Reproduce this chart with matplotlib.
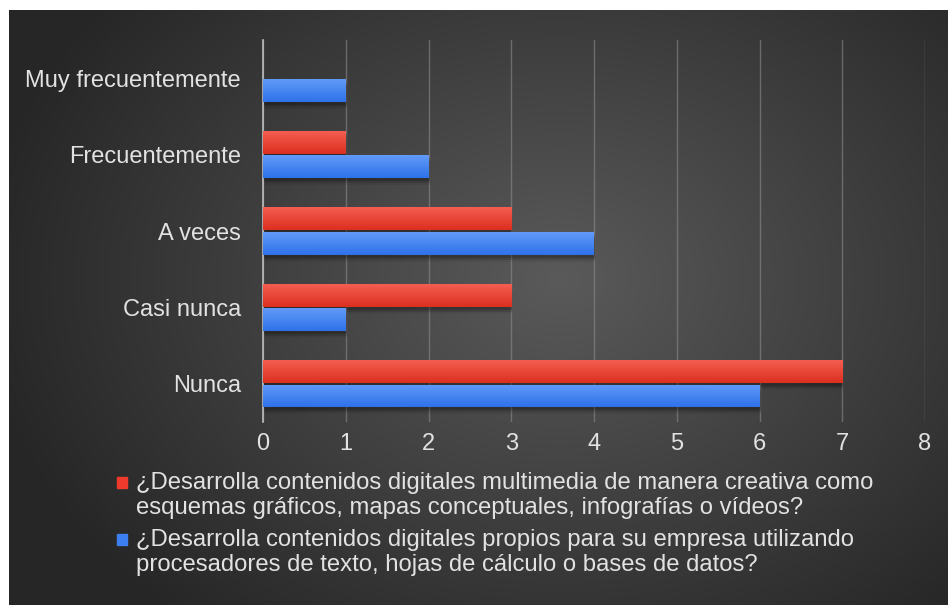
import numpy as np
import matplotlib
matplotlib.use("Agg")
import matplotlib.pyplot as plt
import matplotlib.transforms as mtransforms
from matplotlib.colors import LinearSegmentedColormap
from matplotlib.patches import Rectangle

plt.rcParams['font.family'] = ['Liberation Sans', 'DejaVu Sans']

# Survey answers, bottom to top
categories = ["Nunca", "Casi nunca", "A veces", "Frecuentemente", "Muy frecuentemente"]
multimedia = [7, 3, 3, 1, 0]
propios = [6, 1, 4, 2, 1]
x_ticks = [0, 1, 2, 3, 4, 5, 6, 7, 8]

series_labels = [
    "¿Desarrolla contenidos digitales multimedia de manera creativa como\n"
    "esquemas gráficos, mapas conceptuales, infografías o vídeos?",
    "¿Desarrolla contenidos digitales propios para su empresa utilizando\n"
    "procesadores de texto, hojas de cálculo o bases de datos?",
]

RED_TOP, RED_BOT = "#f45e50", "#dc2f20"
BLUE_TOP, BLUE_BOT = "#619af7", "#2e72ea"
TEXT = "#e2e2e2"
FS = 17

W, H = 948, 605
fig = plt.figure(figsize=(W / 100, H / 100), dpi=100, facecolor="white")

# dark radial background, leaving the thin white strip at top and left
bx0, by1 = 9 / W, 1 - 10 / H
bg = fig.add_axes([bx0, -0.01, 1 - bx0 + 0.01, by1 + 0.01], zorder=-10)
gx, gy = np.meshgrid(np.linspace(0, 1, 400), np.linspace(0, 1, 300))
d = np.sqrt(((gx - 0.58) / 0.62) ** 2 + ((gy - 0.55) / 0.75) ** 2)
bg_cmap = LinearSegmentedColormap.from_list("bg", ["#5a5a5a", "#262626"])
bg.imshow(np.clip(d, 0, 1), cmap=bg_cmap, vmin=0, vmax=1, aspect="auto",
          origin="lower", extent=[0, 1, 0, 1], interpolation="bicubic")
bg.set_axis_off()

ax = fig.add_axes([263 / W, 1 - 422 / H, (925 - 263) / W, (422 - 40) / H])
ax.set_facecolor("none")

y = np.arange(len(categories))
bh = 0.30
off = 0.16


def gradient_bars(vals, ypos, top, bot):
    cm = LinearSegmentedColormap.from_list("g", [bot, top])
    grad = np.linspace(0, 1, 64).reshape(-1, 1)
    # soft drop shadow under each bar
    for dx, dy, a in [(1, -3, 0.18), (1, -5, 0.12), (2, -7, 0.06)]:
        sh = mtransforms.offset_copy(ax.transData, fig=fig, x=dx, y=dy, units="dots")
        ax.barh(ypos, vals, height=bh, color="black", alpha=a, transform=sh,
                zorder=2, linewidth=0)
    bars = ax.barh(ypos, vals, height=bh, color=bot, zorder=3, linewidth=0)
    for bar in bars:
        if bar.get_width() <= 0:
            continue
        x0, y0 = bar.get_x(), bar.get_y()
        im = ax.imshow(grad, cmap=cm, aspect="auto", origin="lower", zorder=4,
                       extent=[x0, x0 + bar.get_width(), y0, y0 + bar.get_height()])
        im.set_clip_path(bar)


gradient_bars(multimedia, y + off, RED_TOP, RED_BOT)
gradient_bars(propios, y - off, BLUE_TOP, BLUE_BOT)

ax.set_xlim(0, 8)
ax.set_ylim(-0.5, len(categories) - 0.5)
ax.set_xticks(x_ticks)
ax.set_yticks(y)
ax.set_yticklabels(categories)
ax.tick_params(axis="y", length=0, pad=16, labelsize=FS, labelcolor=TEXT)
ax.tick_params(axis="x", length=0, pad=8, labelsize=FS, labelcolor=TEXT)
ax.grid(axis="x", color="#8c8c8c", linewidth=1.0, alpha=0.6, zorder=0)
ax.set_axisbelow(True)
for s in ["top", "right", "bottom"]:
    ax.spines[s].set_visible(False)
ax.spines["left"].set_color("#bdbdbd")
ax.spines["left"].set_linewidth(1.2)

# legend below the axis, one square marker per series
leg_y = [1 - 482 / H, 1 - 539 / H]
for lab, col, ly in zip(series_labels, ["#ee3a2c", "#3b7ff0"], leg_y):
    fig.add_artist(Rectangle((117 / W, ly - 6 / H), 10 / W, 11 / H,
                             transform=fig.transFigure, color=col))
    fig.text(136 / W, ly + 10 / H, lab, fontsize=17.2, color=TEXT, va="top",
             ha="left", linespacing=1.2)

fig.savefig("out.png", dpi=100, facecolor=fig.get_facecolor())
